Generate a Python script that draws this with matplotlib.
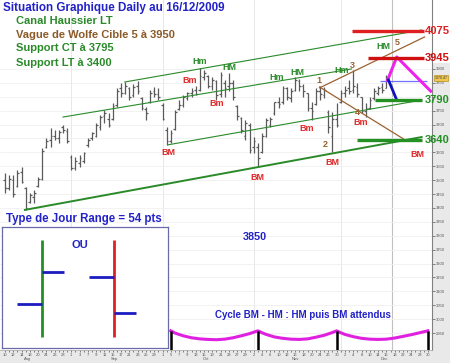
import numpy as np
import pandas as pd
import matplotlib
matplotlib.use("Agg")
import matplotlib.pyplot as plt
from matplotlib.patches import Rectangle

plt.rcParams['font.family'] = ['Liberation Sans', 'DejaVu Sans']

# trading days shown on the axis (Aug 10 -> Dec 30 2009)
dates = pd.bdate_range("2009-08-10", "2009-12-30")
month_names = ["Aug", "Sep", "Oct", "Nov", "Dec"]
month_pos = [5.5, 26.5, 48.5, 70, 91.5]
month_starts = [16, 38, 60, 81]

# daily OHLC, Aug 10 -> Dec 16
highs = [3524, 3518, 3518, 3536, 3548, 3476, 3452, 3464, 3512, 3614,
         3650, 3686, 3680, 3680, 3700, 3686, 3590, 3584, 3590, 3602,
         3650, 3674, 3704, 3734, 3752, 3740, 3776, 3830, 3850, 3852,
         3835, 3845, 3855, 3800, 3764, 3824, 3835, 3830, 3776, 3692,
         3680, 3752, 3788, 3806, 3818, 3830, 3840, 3905, 3895, 3880,
         3870, 3860, 3890, 3860, 3885, 3860, 3770, 3728, 3716, 3704,
         3656, 3632, 3668, 3722, 3728, 3782, 3800, 3840, 3835, 3830,
         3870, 3865, 3845, 3815, 3780, 3830, 3838, 3835, 3752, 3746,
         3776, 3824, 3840, 3860, 3895, 3850, 3800, 3776, 3800, 3830,
         3840, 3850, 3880]
lows = [3452, 3464, 3440, 3476, 3488, 3392, 3416, 3416, 3476, 3500,
        3614, 3620, 3644, 3632, 3668, 3632, 3536, 3536, 3548, 3560,
        3620, 3644, 3656, 3680, 3704, 3690, 3716, 3764, 3800, 3810,
        3790, 3800, 3810, 3752, 3716, 3776, 3800, 3790, 3716, 3626,
        3632, 3680, 3752, 3764, 3788, 3800, 3805, 3820, 3860, 3830,
        3825, 3790, 3800, 3800, 3820, 3790, 3716, 3668, 3644, 3596,
        3596, 3548, 3596, 3656, 3692, 3734, 3760, 3775, 3790, 3780,
        3820, 3820, 3800, 3750, 3716, 3770, 3790, 3795, 3668, 3602,
        3692, 3776, 3800, 3810, 3815, 3800, 3740, 3728, 3755, 3790,
        3805, 3815, 3830]
opens = [3500, 3470, 3500, 3480, 3530, 3470, 3420, 3440, 3480, 3505,
         3620, 3645, 3660, 3650, 3690, 3675, 3585, 3545, 3560, 3570,
         3625, 3650, 3660, 3690, 3730, 3720, 3720, 3770, 3830, 3815,
         3830, 3805, 3840, 3795, 3755, 3780, 3820, 3810, 3770, 3680,
         3640, 3685, 3755, 3770, 3795, 3815, 3825, 3825, 3870, 3875,
         3840, 3855, 3810, 3850, 3840, 3850, 3765, 3725, 3660, 3700,
         3620, 3620, 3600, 3660, 3700, 3740, 3780, 3780, 3830, 3795,
         3825, 3855, 3840, 3815, 3760, 3775, 3820, 3805, 3745, 3660,
         3720, 3780, 3815, 3830, 3825, 3835, 3800, 3750, 3760, 3795,
         3815, 3835, 3830]
closes = [3470, 3505, 3450, 3525, 3495, 3400, 3445, 3455, 3505, 3605,
          3640, 3660, 3650, 3672, 3680, 3640, 3545, 3570, 3580, 3598,
          3645, 3668, 3700, 3728, 3740, 3700, 3768, 3820, 3815, 3840,
          3800, 3835, 3820, 3760, 3740, 3815, 3810, 3800, 3720, 3640,
          3670, 3745, 3770, 3800, 3812, 3820, 3810, 3875, 3885, 3840,
          3860, 3805, 3880, 3830, 3850, 3800, 3730, 3680, 3705, 3610,
          3640, 3580, 3660, 3715, 3720, 3780, 3775, 3830, 3800, 3820,
          3860, 3840, 3820, 3760, 3750, 3820, 3810, 3825, 3690, 3720,
          3700, 3815, 3825, 3820, 3840, 3810, 3750, 3760, 3790, 3820,
          3830, 3825, 3870]
last_price = "3870.47"

# trend lines (day index, price)
channel_lines = [((28.9, 3853), (100.5, 4040)),
                 ((14.0, 3727), (83.6, 3900)),
                 ((39.3, 3627), (100.5, 3788))]
support_lt = ((4.8, 3393), (100.5, 3655))
wolfe_lines = [((75.9, 3832), (101.2, 4015)),
               ((75.9, 3835), (96.9, 3641))]
magenta_path_x = [92.3, 94.5, 102.7]
magenta_path_y = [3860, 3943, 3820]
blue_leg = ((92.5, 3860), (94.5, 3788))
blue_level = (90.4, 101.9, 3857)
today_idx = 93.3

# horizontal target levels: (x0, x1, price, label, colour)
levels = [(83.6, 101.0, 4037, "4075", "#e02020"),
          (87.5, 101.0, 3940, "3945", "#d01010"),
          (89.2, 100.5, 3788, "3790", "#229022"),
          (84.8, 100.5, 3646, "3640", "#229022")]

# pivot labels: (text, day index, price, kind)
pivots = [("Hm", 47.0, 3925, "top"), ("HM", 54.2, 3904, "top"),
          ("Bm", 44.5, 3860, "low"), ("Bm", 51.1, 3774, "low"),
          ("BM", 39.3, 3601, "low"), ("Hm", 65.5, 3871, "top"),
          ("HM", 70.6, 3889, "top"), ("Hm", 81.2, 3896, "top"),
          ("HM", 91.3, 3979, "top"), ("Bm", 72.8, 3684, "low"),
          ("Bm", 85.8, 3706, "low"), ("BM", 61.0, 3511, "low"),
          ("BM", 79.0, 3562, "low"), ("BM", 99.5, 3591, "low"),
          ("1", 75.7, 3857, "wave"), ("2", 77.3, 3627, "wave"),
          ("3", 83.9, 3914, "wave"), ("4", 85.1, 3742, "wave"),
          ("5", 94.5, 3994, "wave")]

# cycle curve (BM - HM)
cycle_peaks = [40, 61, 80, 102]
cycle_x = [40, 41, 43, 45, 47, 49, 51, 53, 55, 57, 59, 61,
           62, 63, 65, 67, 69, 71, 73, 75, 77, 79, 80,
           81, 82, 84, 86, 88, 90, 92, 94, 96, 98, 100, 102]
cycle_y = [2958, 2950, 2940, 2933, 2929, 2927, 2926, 2928, 2933, 2940, 2948, 2958,
           2951, 2945, 2936, 2931, 2928, 2927, 2929, 2935, 2942, 2952, 2958,
           2951, 2945, 2937, 2931, 2928, 2927, 2928, 2932, 2938, 2944, 2951, 2958]
cycle_peak_price = 2958

# "OU" day-type schematic: (x, low, high, open, close, colour)
ou_bars = [(2.4, 0.9, 8.9, 3.6, 6.3, "#229022"),
           (6.75, 0.9, 8.9, 5.9, 2.9, "#dd2222")]

blue = "#2222c8"
green = "#2a8a2a"
red = "#e02828"
brown = "#9a6230"

fig = plt.figure(figsize=(4.5, 3.63), dpi=100, facecolor="#e9e9e9")
fig.patches.append(Rectangle((432 / 450, 1 - 63 / 363), 18 / 450, 63 / 363,
                             transform=fig.transFigure, facecolor="white",
                             edgecolor="none", zorder=-5))
ax = fig.add_axes([0, 13 / 363, 432 / 450, 350 / 363])
ax.set_xlim(-1.2, 103.0)
ax.set_ylim(2889, 4148)

for s in ["top", "left"]:
    ax.spines[s].set_visible(False)
ax.spines["right"].set_color("#808080")
ax.spines["bottom"].set_color("#b0b0b0")
ax.spines["bottom"].set_linewidth(0.6)

yt = list(range(2950, 3901, 50))
ax.yaxis.tick_right()
ax.set_yticks(yt)
ax.set_yticklabels(["" if v in (3650, 3800) else str(v) for v in yt])
ax.tick_params(axis="y", labelsize=3, colors="#555555", length=2, width=0.5, pad=1)
ax.grid(axis="y", color="#f0f0f0", lw=0.6)

ax.set_xticks(range(0, len(dates), 2))
ax.set_xticklabels([str(d.day) for d in dates[::2]])
ax.set_xticks(range(len(dates)), minor=True)
ax.tick_params(axis="x", which="both", labelsize=3, colors="#555555",
               length=1.5, width=0.5, pad=0.5)
for p, m in zip(month_pos, month_names):
    ax.text(p, -0.021, m, transform=ax.get_xaxis_transform(), fontsize=3,
            color="#555555", ha="center", va="top")

for m in month_starts:
    ax.axvline(m, color="#e4e4e4", lw=0.6, zorder=0)
ax.axvline(today_idx, color="#c0c0c0", lw=0.8, zorder=1)

# OHLC bars
idx = np.arange(len(closes))
bar_col = "#5a5a5a"
ax.vlines(idx, lows, highs, color=bar_col, lw=0.9, zorder=2)
ax.hlines(opens, idx - 0.4, idx, color=bar_col, lw=0.9, zorder=2)
ax.hlines(closes, idx, idx + 0.4, color=bar_col, lw=0.9, zorder=2)

# channel
for (x0, y0), (x1, y1) in channel_lines:
    ax.plot([x0, x1], [y0, y1], color=green, lw=0.8, zorder=3)
ax.plot([support_lt[0][0], support_lt[1][0]], [support_lt[0][1], support_lt[1][1]],
        color="#2a8a2a", lw=1.4, zorder=3)
for (x0, y0), (x1, y1) in wolfe_lines:
    ax.plot([x0, x1], [y0, y1], color=brown, lw=0.9, zorder=3)

ax.hlines(blue_level[2], blue_level[0], blue_level[1], color="#7070ff", lw=0.9, zorder=3)
ax.plot(magenta_path_x, magenta_path_y, color="#ee22ee", lw=2.2, zorder=4)
ax.plot([blue_leg[0][0], blue_leg[1][0]], [blue_leg[0][1], blue_leg[1][1]],
        color="#1010c0", lw=2.0, zorder=4)

for x0, x1, p, lab, col in levels:
    ax.hlines(p, x0, x1, color=col, lw=2.4, zorder=4)
    ax.text(101.2, p, lab, color=col, fontsize=8, fontweight="bold",
            ha="left", va="center", zorder=6, clip_on=False)

kind_col = {"top": green, "low": red, "wave": brown}
for t, x, p, k in pivots:
    ax.text(x, p, t, color=kind_col[k], fontsize=6.5, fontweight="bold",
            ha="center", va="center", zorder=5)

# cycle curve
ax.plot(cycle_x, cycle_y, color="#e020e0", lw=2.2, zorder=4)
ax.vlines(cycle_peaks, 2889, cycle_peak_price, color="black", lw=1.8, zorder=5)

# last price tag
ax.text(1.006, 3868, last_price, transform=ax.get_yaxis_transform(), fontsize=2.6,
        color="#333333", ha="left", va="center", clip_on=False,
        bbox=dict(boxstyle="square,pad=0.25", fc="#f0c850", ec="#b08000", lw=0.4))

# texts
def px(x, y):
    return x / 450, 1 - y / 363

fig.text(*px(3, 11), "Situation Graphique Daily au 16/12/2009", color=blue,
         fontsize=8.4, fontweight="bold", va="baseline")
fig.text(*px(16, 24), "Canal Haussier LT", color=green, fontsize=8,
         fontweight="bold", va="baseline")
fig.text(*px(16, 37.5), "Vague de Wolfe Cible 5 \u00e0 3950", color="#8b5a28",
         fontsize=8, fontweight="bold", va="baseline")
fig.text(*px(16, 51), "Support CT \u00e0 3795", color=green, fontsize=8,
         fontweight="bold", va="baseline")
fig.text(*px(16, 65.5), "Support LT \u00e0 3400", color=green, fontsize=8,
         fontweight="bold", va="baseline")
fig.text(*px(6, 222), "Type de Jour Range = 54 pts", color=blue, fontsize=8.3,
         fontweight="bold", va="baseline")
ax.text(60.2, 3296, "3850", color=blue, fontsize=7.8, fontweight="bold",
        ha="center", va="center")
ax.text(50.6, 3015, "Cycle BM - HM : HM puis BM attendus", color=blue,
        fontsize=7, fontweight="bold", ha="left", va="center")

# day-type schematic box
ax2 = fig.add_axes([2 / 450, 1 - 348 / 363, 166 / 450, 121 / 363])
ax2.set_xlim(0, 10)
ax2.set_ylim(0, 10)
ax2.set_xticks([])
ax2.set_yticks([])
for s in ax2.spines.values():
    s.set_color("#6a6aa8")
    s.set_linewidth(0.9)
for x, lo, hi, o, c, col in ou_bars:
    ax2.vlines(x, lo, hi, color=col, lw=2)
    ax2.hlines(o, x - 1.5, x, color="#1c1cc0", lw=2)
    ax2.hlines(c, x, x + 1.35, color="#1c1cc0", lw=2)
ax2.text(4.7, 8.5, "OU", color=blue, fontsize=8, fontweight="bold",
         ha="center", va="center")

fig.savefig("out.png", dpi=100, facecolor=fig.get_facecolor())
